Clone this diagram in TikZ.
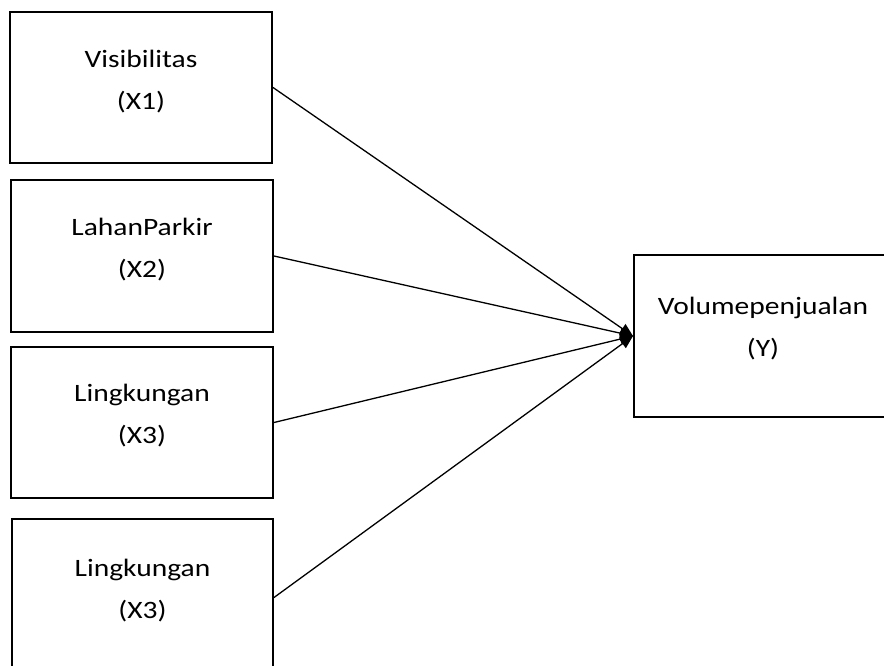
\documentclass[tikz,border=0pt]{standalone}
\usepackage{fontspec}
\setmainfont{Carlito}[FakeStretch=1.18]
\usetikzlibrary{arrows.meta}
\begin{document}
\begin{tikzpicture}[x=1pt,y=-1pt,
  box/.style={draw=black, line width=2pt, rectangle, minimum width=262pt, minimum height=151pt,
    align=center, font=\fontsize{25pt}{42pt}\selectfont, text depth=15.5pt, inner sep=0pt},
  conn/.style={draw=black, line width=1.3pt, -{Triangle[length=13pt,width=11pt]}}]
\useasboundingbox (0,0) rectangle (884,666);
\fill[white] (0,0) rectangle (884,666);
\node[box, text depth=14.5pt] (x1) at (141,87.5) {Visibilitas\\(X1)};
\node[box, minimum height=152pt] (x2) at (142,256) {LahanParkir\\(X2)};
\node[box, text depth=16.5pt] (x3) at (142,422.5) {Lingkungan\\(X3)};
\node[box, text depth=16.5pt, minimum width=261pt, minimum height=157pt] (x4) at (142.5,597.5) {Lingkungan\\(X3)};
\node[box, text depth=17.5pt, minimum width=258pt, minimum height=162pt] (y) at (763,336) {Volumepenjualan\\(Y)};
\draw[conn] (x1.east) -- (y.west);
\draw[conn] (x2.east) -- (y.west);
\draw[conn] (x3.east) -- (y.west);
\draw[conn] (x4.east) -- (y.west);
\end{tikzpicture}
\end{document}
